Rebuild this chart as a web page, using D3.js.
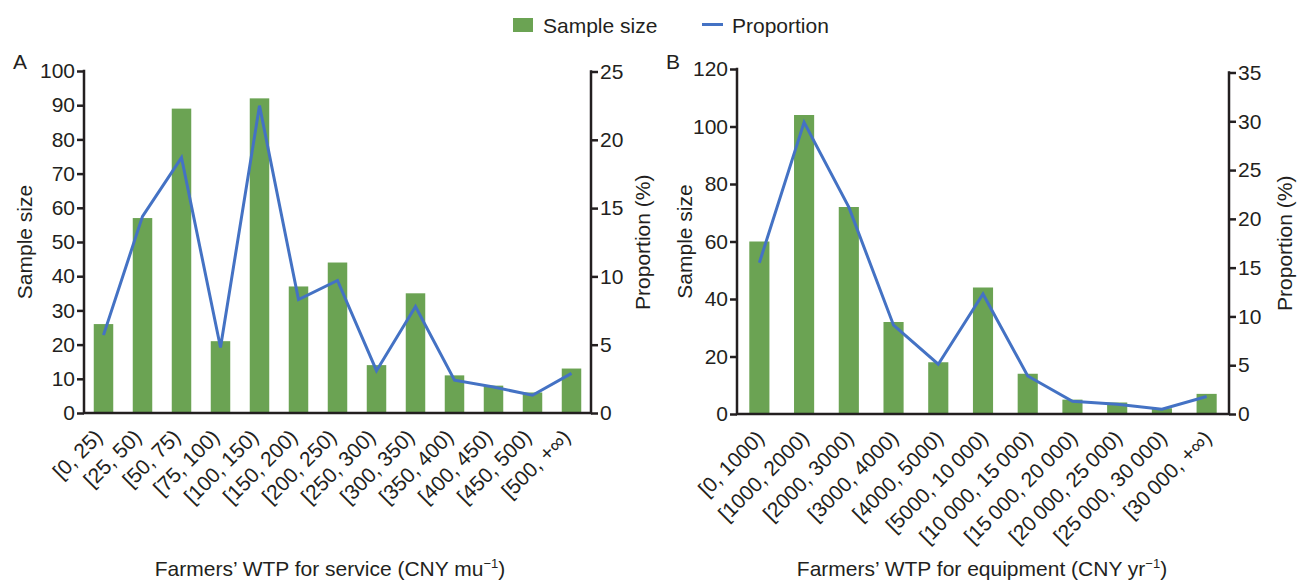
<!DOCTYPE html>
<html>
<head>
<meta charset="utf-8">
<script src="https://cdn.jsdelivr.net/npm/d3@7"></script>
<style>
    body { margin: 0; background: #fff; }
    svg text { font-family: "Liberation Sans", Arial, sans-serif; fill: #231f20; }
</style>
</head>
<body>
<svg id="chart" width="1304" height="581"></svg>
<script>
// Panel A: WTP for service
var serviceBins = ["[0, 25)", "[25, 50)", "[50, 75)", "[75, 100)", "[100, 150)", "[150, 200)",
    "[200, 250)", "[250, 300)", "[300, 350)", "[350, 400)", "[400, 450)", "[450, 500)", "[500, +\u221e)"];
var serviceSample = [26, 57, 89, 21, 92, 37, 44, 14, 35, 11, 8, 6, 13];
var serviceProportion = [5.7, 14.4, 18.7, 4.8, 22.5, 8.3, 9.7, 3.1, 7.8, 2.4, 1.9, 1.3, 2.9];
var serviceSampleTicks = [0, 10, 20, 30, 40, 50, 60, 70, 80, 90, 100];
var serviceProportionTicks = [0, 5, 10, 15, 20, 25];

// Panel B: WTP for equipment
var equipmentBins = ["[0, 1000)", "[1000, 2000)", "[2000, 3000)", "[3000, 4000)", "[4000, 5000)",
    "[5000, 10\u2009000)", "[10\u2009000, 15\u2009000)", "[15\u2009000, 20\u2009000)",
    "[20\u2009000, 25\u2009000)", "[25\u2009000, 30\u2009000)", "[30\u2009000, +\u221e)"];
var equipmentSample = [60, 104, 72, 32, 18, 44, 14, 5, 4, 2, 7];
var equipmentProportion = [15.5, 29.9, 21.2, 9.1, 5.1, 12.3, 3.9, 1.3, 1.0, 0.5, 1.8];
var equipmentSampleTicks = [0, 20, 40, 60, 80, 100, 120];
var equipmentProportionTicks = [0, 5, 10, 15, 20, 25, 30, 35];

var barColor = "#6ba353";
var lineColor = "#4472c4";
var axisColor = "#231f20";
var fontSize = 21;

var $svg = d3.select("#chart");

drawPanel({
    letter: "A", x0: 84, x1: 591, yBot: 413, yTopL: 71, yTopR: 71.5,
    bins: serviceBins, sample: serviceSample, prop: serviceProportion,
    sampleTicks: serviceSampleTicks, propTicks: serviceProportionTicks,
    pad: 0.5, leftLabelX: 25, rightLabelX: 643, catShift: -5,
    title: "Farmers\u2019 WTP for service (CNY mu", titleX: 330
});
drawPanel({
    letter: "B", x0: 737, x1: 1229, yBot: 414, yTopL: 69, yTopR: 72.5,
    bins: equipmentBins, sample: equipmentSample, prop: equipmentProportion,
    sampleTicks: equipmentSampleTicks, propTicks: equipmentProportionTicks,
    pad: 0.55, leftLabelX: 685, rightLabelX: 1285, catShift: 1,
    title: "Farmers\u2019 WTP for equipment (CNY yr", titleX: 982
});
drawLegend();

function drawPanel(p) {
    var $g = $svg.append("g");
    var sMax = p.sampleTicks[p.sampleTicks.length - 1];
    var pMax = p.propTicks[p.propTicks.length - 1];

    var x = d3.scaleBand().domain(p.bins).range([p.x0, p.x1])
        .paddingInner(p.pad).paddingOuter(p.pad / 2);
    var yL = d3.scaleLinear().domain([0, sMax]).range([p.yBot, p.yTopL]);
    var yR = d3.scaleLinear().domain([0, pMax]).range([p.yBot, p.yTopR]);

    // bars
    $g.selectAll("rect.bar").data(p.sample).join("rect")
        .attr("class", "bar")
        .attr("x", (d, i) => x(p.bins[i]))
        .attr("width", x.bandwidth())
        .attr("y", d => yL(d))
        .attr("height", d => yL(0) - yL(d))
        .attr("fill", barColor);

    // proportion line through bar centres
    var line = d3.line()
        .x((d, i) => x(p.bins[i]) + x.bandwidth() / 2)
        .y(d => yR(d));
    $g.append("path").datum(p.prop)
        .attr("d", line)
        .attr("fill", "none")
        .attr("stroke", lineColor)
        .attr("stroke-width", 3)
        .attr("stroke-linejoin", "miter");

    // left + right axes, ticks only (frame drawn below)
    var $left = $g.append("g").attr("transform", `translate(${p.x0},0)`)
        .call(d3.axisLeft(yL).tickValues(p.sampleTicks).tickSizeOuter(0).tickSize(7).tickPadding(2));
    var $right = $g.append("g").attr("transform", `translate(${p.x1},0)`)
        .call(d3.axisRight(yR).tickValues(p.propTicks).tickSizeOuter(0).tickSize(7).tickPadding(2));
    [$left, $right].forEach($a => {
        $a.select(".domain").remove();
        $a.selectAll("line").attr("stroke", axisColor).attr("stroke-width", 2.5);
        $a.selectAll("text").attr("font-size", fontSize).attr("fill", axisColor)
            .attr("font-family", null);
    });
    $g.append("path")
        .attr("d", `M${p.x0},${p.yTopL - 1.2}V${p.yBot}H${p.x1}V${p.yTopR - 1.2}`)
        .attr("fill", "none").attr("stroke", axisColor).attr("stroke-width", 2.5);

    // category labels (rotated)
    $g.selectAll("text.cat").data(p.bins).join("text")
        .attr("class", "cat")
        .attr("transform", d => `translate(${x(d) + x.bandwidth() / 2 + p.catShift},${p.yBot + 20}) rotate(-45)`)
        .attr("text-anchor", "end")
        .attr("dy", "0.35em")
        .attr("font-size", fontSize)
        .text(d => d);

    // axis titles
    $g.append("text")
        .attr("transform", `translate(${p.leftLabelX},${(p.yBot + p.yTopL) / 2}) rotate(-90)`)
        .attr("text-anchor", "middle").attr("dy", "0.35em")
        .attr("font-size", fontSize).text("Sample size");
    $g.append("text")
        .attr("transform", `translate(${p.rightLabelX},${(p.yBot + p.yTopR) / 2}) rotate(-90)`)
        .attr("text-anchor", "middle").attr("dy", "0.35em")
        .attr("font-size", fontSize).text("Proportion (%)");

    var $t = $g.append("text")
        .attr("x", p.titleX).attr("y", 576)
        .attr("text-anchor", "middle").attr("font-size", fontSize);
    $t.append("tspan").text(p.title);
    $t.append("tspan").attr("font-size", 13).attr("dy", -8).text("\u22121");
    $t.append("tspan").attr("dy", 8).text(")");

    // panel letter
    $g.append("text")
        .attr("x", p.x0 - 71).attr("y", 69)
        .attr("font-size", fontSize).text(p.letter);
}

function drawLegend() {
    var $lg = $svg.append("g");
    $lg.append("rect").attr("x", 513).attr("y", 18).attr("width", 20).attr("height", 14)
        .attr("fill", barColor);
    $lg.append("text").attr("x", 543).attr("y", 33).attr("font-size", fontSize).text("Sample size");
    $lg.append("line").attr("x1", 702).attr("x2", 723).attr("y1", 24.5).attr("y2", 24.5)
        .attr("stroke", lineColor).attr("stroke-width", 3);
    $lg.append("text").attr("x", 732).attr("y", 33).attr("font-size", fontSize).text("Proportion");
}
</script>
</body>
</html>
